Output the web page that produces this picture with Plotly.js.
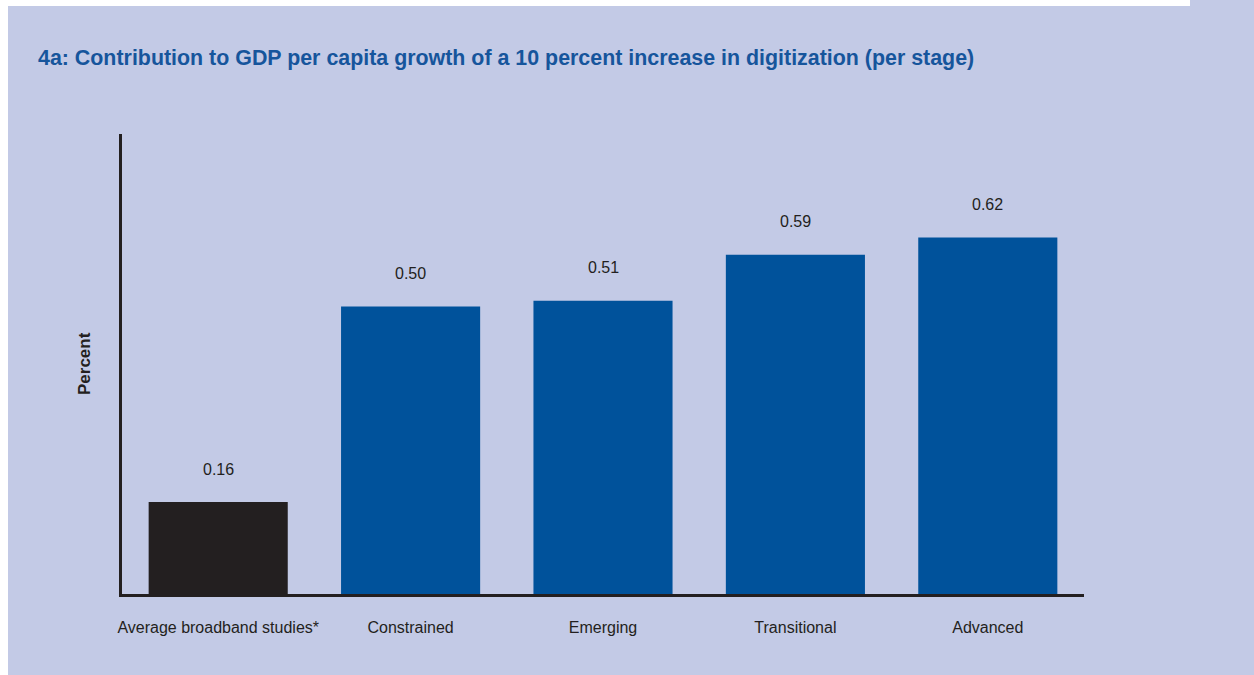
<!DOCTYPE html>
<html>
<head>
<meta charset="utf-8">
<script src="https://cdn.plot.ly/plotly-3.0.1.min.js"></script>
<style>
html,body{margin:0;padding:0;background:#ffffff;}
#chart{width:1254px;height:675px;}
</style>
</head>
<body>
<div id="chart"></div>
<script>
const categories = ["Average broadband studies*", "Constrained", "Emerging", "Transitional", "Advanced"];
const values = [0.16, 0.50, 0.51, 0.59, 0.62];
const valueLabels = ["0.16", "0.50", "0.51", "0.59", "0.62"];
const barColors = ["#231f20", "#00529b", "#00529b", "#00529b", "#00529b"];

const narrow = "'Liberation Sans Narrow', 'Arial Narrow', 'Liberation Sans', Arial, sans-serif";
const textColor = "#231f20";
const bg = "#c3cae6";

const trace = {
  type: "bar",
  x: categories,
  y: values,
  marker: {color: barColors, line: {width: 0}},
  width: 0.723,
  hoverinfo: "skip"
};

const annotations = categories.map((c, i) => ({
  x: c, y: values[i], xref: "x", yref: "y",
  text: valueLabels[i], showarrow: false,
  yanchor: "middle", yshift: 33,
  font: {family: narrow, size: 16, color: textColor}
}));

annotations.push({
  xref: "paper", yref: "paper", x: 0, y: 0.5, xshift: -38,
  xanchor: "center", yanchor: "middle", textangle: -90,
  text: "<b>Percent</b>", showarrow: false,
  font: {family: narrow, size: 17, color: textColor}
});

const layout = {
  width: 1254, height: 675,
  margin: {l: 122, r: 170, t: 134, b: 81, pad: 0},
  paper_bgcolor: bg,
  plot_bgcolor: "rgba(0,0,0,0)",
  showlegend: false,
  title: {
    text: "<b>4a: Contribution to GDP per capita growth of a 10 percent increase in digitization (per stage)</b>",
    x: 38/1254, xanchor: "left", xref: "container",
    y: 1 - 58/675, yanchor: "middle", yref: "container",
    font: {family: "'Liberation Sans', Arial, Helvetica, sans-serif", size: 21.4, color: "#16559c"}
  },
  xaxis: {
    type: "category",
    range: [-0.5, 4.5],
    showgrid: false, zeroline: false,
    showline: true, linecolor: textColor, linewidth: 3,
    ticks: "outside", ticklen: 17, tickcolor: "rgba(0,0,0,0)",
    tickfont: {family: narrow, size: 16, color: textColor},
    fixedrange: true
  },
  yaxis: {
    range: [0, 0.8],
    showgrid: false, zeroline: false,
    showline: true, linecolor: textColor, linewidth: 3,
    showticklabels: false, ticks: "",
    fixedrange: true
  },
  shapes: [
    {type: "rect", xref: "paper", yref: "paper", layer: "below",
     x0: (0-122)/962, x1: (8-122)/962, y0: (594-675)/460, y1: (594-0)/460,
     fillcolor: "#ffffff", line: {width: 0}},
    {type: "rect", xref: "paper", yref: "paper", layer: "below",
     x0: (0-122)/962, x1: (1190-122)/962, y0: (594-6)/460, y1: (594-0)/460,
     fillcolor: "#ffffff", line: {width: 0}}
  ],
  annotations: annotations,
  bargap: 0.277
};

Plotly.newPlot("chart", [trace], layout, {displayModeBar: false, staticPlot: true});
</script>
</body>
</html>
